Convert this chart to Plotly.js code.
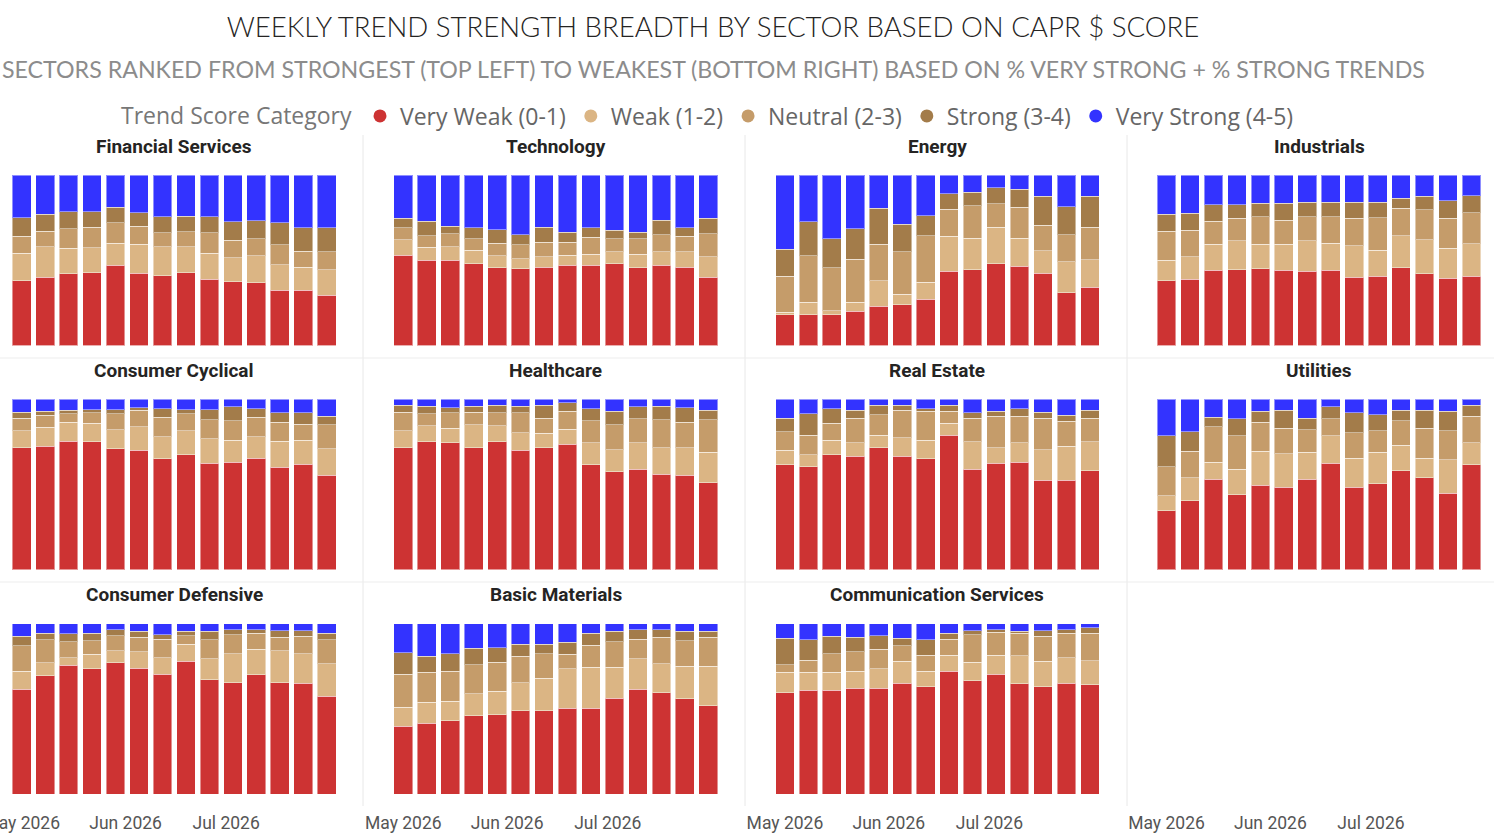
<!DOCTYPE html>
<html>
<head>
<meta charset="utf-8">
<script src="https://cdn.plot.ly/plotly-3.0.1.min.js"></script>
<style>
html,body{margin:0;padding:0;background:#fff;}
#chart{width:1494px;height:840px;}
</style>
</head>
<body>
<div id="chart"></div>
<script>
// ---------- DATA ----------
const weeks = ['2026-05-01','2026-05-08','2026-05-15','2026-05-22','2026-05-29','2026-06-05','2026-06-12',
               '2026-06-19','2026-06-26','2026-07-03','2026-07-10','2026-07-17','2026-07-24','2026-07-31'];
const tickVals = ['2026-05-01','2026-06-01','2026-07-01'];
const tickLabels = ['May 2026','Jun 2026','Jul 2026'];

const sectors = ['Financial Services','Technology','Energy','Industrials',
                 'Consumer Cyclical','Healthcare','Real Estate','Utilities',
                 'Consumer Defensive','Basic Materials','Communication Services'];

const categories = ['Very Weak (0-1)','Weak (1-2)','Neutral (2-3)','Strong (3-4)','Very Strong (4-5)'];
const categoryColors = ['#CD3333','#DBB584','#C59C6A','#A37C4A','#3333FF'];

// % of stocks per category, one row per sector (same order as sectors)
const veryWeak = [
  [38,40,42,42.5,47,42.5,41,42.5,39,37,37,32.5,32.5,29.5],
  [53,50,50,48,45.5,45,46,47,47,48,45.5,47,46,40],
  [18,18,18,20,23,24,27,43.5,44.5,48,46.5,42.5,31,34],
  [38,39,44,44.5,45,44,43.5,44,40,40.5,45.5,42,39.5,40.5],
  [71.5,72.5,75.5,75,71,70,65,67.5,62.5,63,65.5,60,62,55.5],
  [71.5,75,74.5,71.5,75,70,71.5,73.5,61.5,57.5,59,56,55.5,51],
  [61.5,60.5,67.5,66.5,71.5,66.5,65,79,59,62.5,63,52.5,52.5,58],
  [34.5,40.5,53,44,49.5,48.5,53,62.5,48.5,50.5,58,54,45,61.5],
  [61.5,69.5,75.5,73.5,77,74,70.5,78,67,65.5,70,65.5,65,57.5],
  [40,41.5,43,46,46.5,49,49,50.5,50.5,56,61.5,59.5,56,52],
  [59.5,61,61,62,62,65,63,72,66.5,70,65,63,65,64]
];
const weak = [
  [16,18,15,14.5,13,17,17,15,15,14,16,15,13.5,15],
  [9,7.5,8,8,7,6,6,6,6.5,7,8,8,9,12],
  [1.5,7.5,2.5,5.5,15,6,10,20.5,18.5,21.5,16.5,13,18,16],
  [12,13,15.5,17,14.5,15.5,18,16,18.5,15.5,19,20,17.5,19],
  [10,11,11,11,11,14,13,14,14.5,13,12.5,15.5,14,15.5],
  [10,9.5,8.5,13.5,9.5,10.5,8.5,9,13,13,15.5,15.5,16,18],
  [8.5,7,8.5,8,7.5,11,11,7,16,9,11.5,18,20,17],
  [9,13.5,10,15,20,19.5,16,16,17,18.5,15,11.5,19.5,13],
  [10.5,7.5,4.5,8.5,7,9.5,9.5,10,12.5,17,15,18.5,17.5,19],
  [11,12.5,11.5,13,14,16.5,19,23,24,18,18,17,19,23],
  [12,10.5,10.5,10,11.5,13,9,9.5,11,11,16.5,15,15,14]
];
const neutral = [
  [10,9,11.5,12,12,10.5,8,9,12,10,10,12,9.5,10.5],
  [7,7,7.5,6.5,7.5,8,8.5,7.5,10,7.5,9,10,9,13.5],
  [21,27,25,25,21.5,25,27.5,16,19,13.5,18,15,16,19],
  [17,15.5,13.5,13,16,14,14,15.5,16,19,16,17.5,17.5,18],
  [7.5,7,5,6,9.5,9.5,11.5,10,11,11.5,11.5,11,9.5,14],
  [11,7,9,7.5,7.5,11.5,9,10.5,13,14.5,14,16.5,15,19],
  [11,11.5,10,14.5,12,16,17,7,14,18.5,15.5,18.5,14.5,14],
  [17,15.5,21,19.5,17,15,13,10,15,12.5,14.5,17.5,17,15.5],
  [15,13.5,9.5,8,9,8.5,11,5,11,11,9.5,8,10,14],
  [19.5,17.5,17.5,17,17,15.5,14.5,8.5,13,15,11.5,15.5,15,17],
  [4.5,7,11,11.5,11.5,9,9.5,9.5,16,13.5,13.5,14.5,14.5,16]
];
const strong = [
  [11,10,10,9,9,8,9.5,9,9.5,11,10.5,13,14,14],
  [5.5,8.5,4.5,6.5,8,6,9,6,5.5,5,4,8.5,5,9],
  [16,20,17,18,21,16,11.5,9,8,9.5,10.5,17,16.5,18],
  [10,10,9.5,8,8,10,8.5,8.5,9.5,9,6,8,10.5,10],
  [3.5,2.5,2,2,2.5,1.5,5,2.5,6,8,5,5.5,6.5,5],
  [4,4.5,3,3.5,4.5,4,7.5,5,7,8,7,8,8.5,5.5],
  [8,12.5,8.5,4.5,5.5,3,1.5,3.5,3,3,4.5,3.5,3.5,4.5],
  [18,11.5,5.5,10,6.5,10.5,7,7,11.5,9.5,6,10.5,11.5,6.5],
  [5.5,4,4.5,4.5,3.5,3.5,2.5,2.5,5,3,2,4,3.5,4],
  [12.5,9.5,10.5,9.5,8.5,7,5.5,7,7,6,5.5,4.5,5.5,3.5],
  [15.5,12,10,8.5,8,4.5,9,3.5,2.5,1.5,1,3.5,2,3]
];
const veryStrong = [
  [25,23,21.5,21.5,19,22,24.5,24,24.5,27,27,28,31,31],
  [25.5,27,30,31,32,35,30.5,33.5,31,32.5,33.5,26.5,31,25.5],
  [43.5,27.5,37.5,31.5,19.5,29,24,11,10,7.5,8.5,12.5,18.5,12.5],
  [23,22.5,17.5,17.5,16.5,16.5,16,16,16,16,13.5,12.5,15,12],
  [7.5,7,6.5,6,6,5,5.5,6,6,4.5,5.5,8,8,10],
  [3.5,4,5,4,3.5,4,3.5,2,5.5,7,4.5,4,5,6.5],
  [11,8.5,5.5,6.5,3.5,3.5,5.5,3.5,8,7,5.5,7.5,9.5,6.5],
  [21.5,19,10.5,11.5,7,6.5,11,4.5,8,9,6.5,6.5,7,3.5],
  [7.5,5.5,6,5.5,3.5,4.5,6.5,4.5,4.5,3.5,3.5,4,4,5.5],
  [17,19,17.5,14.5,14,12,12,11,5.5,4.5,3.5,3.5,4.5,4.5],
  [8.5,9.5,7.5,8,7,8.5,9.5,5.5,4,3.5,4.5,4,3.5,2.5]
];
const seriesByCategory = [veryWeak, weak, neutral, strong, veryStrong];

// ---------- LAYOUT GEOMETRY (pixels) ----------
const W = 1494, H = 840;
const colLeft = [1.6, 383.2, 764.8, 1146.4];
const colWidth = 345.2;
const rowTop = [175, 399.3, 623.7];
const rowHeight = 170.5;
const px2x = p => p / W;
const px2y = p => 1 - p / H;
const DAY = 86400000;

const traces = [];
const layout = {
  width: W, height: H,
  margin: {l: 0, r: 0, t: 0, b: 0},
  paper_bgcolor: '#ffffff', plot_bgcolor: '#ffffff',
  barmode: 'stack', barnorm: 'percent',
  showlegend: true,
  font: {family: 'Roboto, "Noto Sans", sans-serif', color: '#605E5C'},
  title: {
    text: 'WEEKLY TREND STRENGTH BREADTH BY SECTOR BASED ON CAPR $ SCORE',
    x: px2x(713), xanchor: 'center', xref: 'paper',
    y: px2y(27), yanchor: 'middle', yref: 'container',
    font: {family: 'Lato, "Open Sans", sans-serif', size: 27.6, color: '#252423', weight: 300}
  },
  legend: {
    orientation: 'h', x: px2x(709), xanchor: 'center', y: px2y(116), yanchor: 'middle',
    font: {family: '"Open Sans", "Noto Sans", sans-serif', size: 23, color: '#666666'},
    title: {text: 'Trend Score Category', side: 'left',
            font: {family: '"Open Sans", "Noto Sans", sans-serif', size: 23, color: '#777777'}},
    itemwidth: 30, tracegroupgap: 0, bgcolor: 'rgba(0,0,0,0)'
  },
  annotations: [{
    text: 'SECTORS RANKED FROM STRONGEST (TOP LEFT) TO WEAKEST (BOTTOM RIGHT) BASED ON % VERY STRONG + % STRONG TRENDS',
    xref: 'paper', yref: 'paper', x: px2x(713), y: px2y(69), xanchor: 'center', yanchor: 'middle',
    showarrow: false,
    font: {family: 'Lato, "Open Sans", sans-serif', size: 23.2, color: '#8c8c8c', weight: 400}
  }],
  shapes: []
};

// separators
[363, 745, 1127].forEach(x => layout.shapes.push({
  type: 'line', xref: 'paper', yref: 'paper', x0: px2x(x), x1: px2x(x), y0: px2y(135), y1: px2y(806),
  line: {color: '#E8E8E8', width: 1}
}));
[358, 582].forEach(y => layout.shapes.push({
  type: 'line', xref: 'paper', yref: 'paper', x0: 0, x1: 1, y0: px2y(y), y1: px2y(y),
  line: {color: '#EDEDED', width: 1}
}));

for (let p = 0; p < 12; p++) {
  const r = Math.floor(p / 4), c = p % 4;
  const idx = p + 1;
  const xa = 'xaxis' + (idx === 1 ? '' : idx);
  const ya = 'yaxis' + (idx === 1 ? '' : idx);
  const xr = 'x' + (idx === 1 ? '' : idx);
  const yr = 'y' + (idx === 1 ? '' : idx);
  const bottomRow = (r === 2);
  layout[xa] = {
    type: 'date', anchor: yr,
    domain: [px2x(colLeft[c]), px2x(colLeft[c] + colWidth)],
    range: ['2026-04-25', '2026-08-06'], fixedrange: true,
    showgrid: false, zeroline: false, showline: false,
    tickmode: 'array', tickvals: tickVals, ticktext: tickLabels,
    showticklabels: bottomRow, ticklabeloverflow: 'allow',
    ticks: bottomRow ? 'outside' : '', ticklen: 13, tickcolor: 'rgba(0,0,0,0)',
    tickfont: {family: 'Roboto, sans-serif', size: 17.5, color: '#555555'}
  };
  layout[ya] = {
    anchor: xr, range: [0, 100], fixedrange: true, visible: false,
    domain: [px2y(rowTop[r] + rowHeight), px2y(rowTop[r])]
  };
  if (p < sectors.length) {
    layout.annotations.push({
      text: '<b>' + sectors[p] + '</b>', xref: 'paper', yref: 'paper',
      x: px2x(colLeft[c] + colWidth / 2), y: px2y(rowTop[r] - 29), xanchor: 'center', yanchor: 'middle',
      showarrow: false, font: {family: 'Roboto, sans-serif', size: 19, color: '#252423'}
    });
    categories.forEach((cat, k) => {
      traces.push({
        type: 'bar', x: weeks, y: seriesByCategory[k][p], xaxis: xr, yaxis: yr,
        name: cat, legendgroup: cat, showlegend: false,
        width: 5.58 * DAY,
        marker: {color: categoryColors[k], line: {color: 'rgba(255,255,255,0.45)', width: 1}},
        hovertemplate: sectors[p] + '<br>%{x|%b %d %Y}<br>' + cat + ': %{y:.1f}%<extra></extra>'
      });
    });
  } else {
    traces.push({type: 'bar', x: [], y: [], xaxis: xr, yaxis: yr, showlegend: false});
  }
}

// legend entries (circle markers)
categories.forEach((cat, k) => {
  traces.push({
    type: 'scatter', mode: 'markers', x: [null], y: [null], xaxis: 'x', yaxis: 'y',
    name: cat, legendgroup: cat, showlegend: true,
    marker: {symbol: 'circle', size: 13, color: categoryColors[k]}, hoverinfo: 'skip'
  });
});

Plotly.newPlot('chart', traces, layout, {displayModeBar: false, responsive: false});
</script>
</body>
</html>
